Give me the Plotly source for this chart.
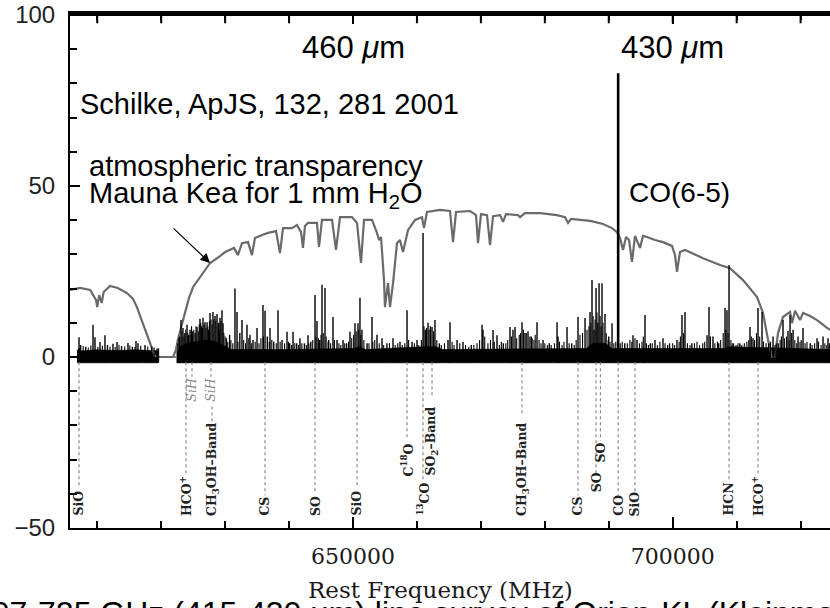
import plotly.graph_objects as go

# ---------------- data ----------------
# Atmospheric transparency, Mauna Kea, 1 mm H2O (percent)
atm_freq = [605740, 607300, 608900, 609800, 610000, 610300, 610700, 611000, 612000, 613200,
            614650, 615600, 616200, 617150, 618250, 619000, 619800, 621850, 622300, 622600,
            623100, 623700, 624350, 625000, 626100, 627650, 629200, 630000, 631400, 632000,
            632640, 633580, 634200, 634670, 635770, 636710, 637960, 638580, 639050, 640460,
            641240, 641870, 642180, 642490, 642960, 644370, 644680, 645150, 646720, 647340,
            647970, 649840, 650630, 651250, 651720, 652970, 653750, 654070, 654380, 654850,
            655000, 655470, 655790, 656260, 656880, 657350, 657820, 658600, 659700, 660790,
            661100, 661570, 663610, 665170, 665640, 666110, 668300, 669240, 669550, 670020,
            670960, 671430, 671900, 673000, 673460, 673930, 675810, 676120, 676900, 679250,
            681910, 683160, 683630, 684100, 687070, 689100, 690510, 691290, 691760, 692230,
            692700, 693170, 693630, 694100, 694890, 695360, 695980, 697230, 698480, 699890,
            700360, 700670, 701140, 701920, 704740, 707400, 708960, 710990, 713190, 714120,
            714910, 715530, 716000, 716470, 717250, 718350, 718660, 719130, 719910, 720380,
            721480, 722570, 724140, 724900]
atm_trans = [19.6, 20.2, 19.6, 16.7, 14.6, 18.1, 15.8, 19.0, 20.8, 20.2,
             18.7, 17.0, 14.6, 9.9, 4.1, 0.3, 0.0, 0.0, 2.0, 5.0,
             8.5, 12.9, 17.3, 20.5, 23.4, 27.5, 29.5, 30.7, 31.9, 29.8,
             33.3, 33.6, 29.8, 34.8, 35.7, 36.3, 36.8, 30.4, 37.7, 37.7,
             38.6, 36.5, 31.9, 38.3, 39.2, 39.2, 32.2, 40.1, 40.1, 31.3,
             40.9, 40.9, 39.2, 27.5, 40.1, 40.1, 36.3, 34.2, 35.1, 22.5,
             14.6, 21.6, 14.6, 21.6, 33.3, 34.2, 30.7, 37.1, 40.1, 40.9,
             37.7, 42.4, 43.0, 42.7, 33.6, 42.4, 42.7, 41.5, 33.3, 41.8,
             41.5, 32.7, 41.2, 41.5, 39.5, 41.8, 41.5, 40.9, 42.1, 42.1,
             41.5, 40.9, 39.2, 40.4, 39.8, 38.9, 37.7, 36.5, 34.8, 31.3,
             35.1, 34.2, 27.8, 35.4, 31.9, 35.4, 35.1, 34.2, 33.6, 32.5,
             29.8, 24.9, 30.7, 31.3, 28.9, 26.9, 26.0, 22.5, 17.5, 12.9,
             5.0, 0.0, 0.0, 7.0, 11.7, 13.2, 9.9, 13.5, 10.8, 12.9,
             12.0, 10.8, 8.5, 7.6]

# Orion-KL spectrum: stronger line peaks (MHz, intensity)
line_freq = [607150, 607400, 608200, 609340, 609650, 610430, 611210, 611600, 612460, 613090,
             613800, 614810, 615500, 616060, 616370, 617470, 618500, 619350,
             622900, 623100, 623410, 623700, 624040, 624300, 624510, 624900, 625300, 625600,
             626070, 626300, 626540, 626850, 627170, 627400, 627640, 628100, 628420, 628730,
             629000, 629200, 629510, 629670, 630200, 630700, 631540, 631860, 632300, 632640,
             633420, 633890, 634360, 634990, 635920, 636240, 636600, 637020, 637600, 638270,
             638900, 639680, 640100, 640620, 641200, 641710, 642400, 642960, 643400, 644060,
             644370, 644800, 645150, 645620, 646200, 646870, 647500, 648440, 649000, 649530,
             650310, 650780, 651090, 651400, 652200, 652970, 653750, 654540, 655300, 656260,
             657350, 658450, 659230, 660010, 660950, 661300, 661730, 662100, 662360, 662820,
             663500, 664860, 665170, 666270, 667200, 668500, 670180, 670330, 671900, 672520,
             673500, 674550, 675020, 675340, 676430, 676900, 677370, 677680, 678000, 678780,
             679720, 680700, 681910, 682060, 683470, 684200, 685190, 686290, 687070, 687380,
             687700, 688010, 688300, 688480, 688940, 689410, 690000, 690510, 692500, 693790,
             694420, 695670, 696500, 697230, 698480, 699500, 700670, 701450, 701920, 703000,
             705370, 705680, 706300, 707200, 708180, 708490, 708810, 709500, 710500, 712090,
             712560, 713340, 713970, 715000, 715690, 716500, 717250, 718030, 718350, 718820,
             719600, 720380, 721500, 722570, 723510, 724290]
line_peak = [5.8, 3.5, 3.0, 9.4, 5.8, 4.4, 6.4, 3.5, 3.9, 4.4,
             3.2, 4.1, 3.0, 4.7, 4.0, 3.5, 3.0, 2.5,
             6.0, 10.8, 8.5, 7.0, 9.4, 6.5, 8.0, 7.5, 7.0, 8.8,
             11.2, 9.0, 11.5, 10.2, 10.2, 8.0, 12.9, 13.2, 12.0, 12.6,
             10.0, 11.5, 13.7, 9.9, 5.5, 6.5, 20.0, 13.2, 7.0, 10.8,
             9.4, 6.5, 5.0, 8.5, 15.2, 13.5, 6.0, 8.5, 4.5, 13.7,
             5.0, 7.4, 4.0, 7.4, 4.0, 5.5, 4.0, 6.4, 4.5, 18.1,
             10.5, 5.0, 21.1, 20.2, 5.0, 11.7, 5.0, 5.0, 4.0, 7.4,
             9.9, 9.9, 17.3, 8.0, 4.0, 11.7, 6.5, 5.5, 4.0, 5.5,
             4.5, 13.7, 4.5, 5.0, 36.3, 8.0, 10.0, 9.0, 8.8, 10.8,
             4.0, 5.0, 10.2, 5.0, 4.5, 3.5, 9.4, 8.0, 7.9, 6.4,
             4.0, 8.8, 8.0, 8.8, 10.2, 7.0, 7.5, 6.0, 5.5, 10.2,
             5.0, 4.0, 10.2, 6.0, 8.8, 4.0, 11.7, 11.4, 13.2, 22.5,
             8.0, 20.2, 10.0, 21.6, 21.6, 12.6, 6.0, 9.9, 4.0, 6.4,
             5.0, 12.3, 4.0, 5.0, 5.5, 4.0, 5.0, 12.3, 13.2, 4.0,
             6.4, 14.6, 6.0, 4.0, 14.3, 13.7, 26.9, 4.0, 4.0, 8.8,
             5.5, 14.3, 13.2, 4.0, 6.0, 4.0, 10.8, 7.7, 12.3, 8.0,
             6.0, 8.5, 4.0, 5.5, 6.0, 5.5]

# weaker lines of the forest (MHz, intensity)
weak_freq = [607800, 608600, 609000, 610100, 610800, 612000, 612800, 613400, 614300, 615100,
             615900, 616800, 617900, 618900, 619600,
             622600, 622750, 623250, 623550, 623850, 624150, 624650, 624750, 625100, 625450,
             625800, 625950, 626200, 626450, 626700, 627000, 627300, 627550, 627800, 627950,
             628250, 628550, 628900, 629100, 629350, 629800, 630000, 630400, 630900, 631200,
             632000, 632900, 633200, 633700, 634100, 634700, 635300, 635600, 636000, 636900,
             637300, 638000, 638600, 639300, 639900, 640400, 640900, 641500, 642000, 642700,
             643100, 643700, 644200, 644600, 645000, 645350, 645800, 646100, 646500, 647100,
             647800, 648100, 648700, 649300, 649800, 650100, 650500, 650900, 651200, 651700,
             652500, 653100, 653400, 654100, 654800, 655700, 656600, 657000, 657700, 658100,
             658700, 659600, 660300, 660700, 661100, 661500, 661900, 662600, 663100, 663800,
             664300, 665500, 665800, 666700, 667600, 668100, 668900, 669400, 669800, 670600,
             671100, 671500, 672100, 672900, 673200, 673900, 674200, 674800, 675600, 676000,
             676200, 676650, 677100, 677900, 678300, 678500, 679100, 679400, 680000, 680400,
             681000, 681500, 682300, 682700, 683000, 683800, 684600, 684900, 685500, 685900,
             686600, 686900, 687200, 687550, 687850, 688150, 688650, 688800, 689100, 689600,
             689900, 690200, 690800, 691100, 691800, 692100, 692900, 693300, 693600, 694100,
             694800, 695200, 695400, 695900, 696200, 696800, 697600, 698000, 698800, 699200,
             700000, 700300, 701000, 701200, 701700, 702300, 702700, 703400, 703800, 704200,
             704700, 705000, 705900, 706600, 707000, 707500, 707900, 708300, 708650, 709100,
             709300, 709900, 710200, 710800, 711200, 711600, 711900, 712300, 712800, 713100,
             713600, 714200, 714600, 715300, 716000, 716200, 716800, 717000, 717500, 717800,
             718200, 718600, 719100, 719400, 719900, 720100, 720700, 721000, 721800, 722200,
             722800, 723200, 723800, 724100, 724500]
weak_peak = [3.2, 2.8, 3.4, 3.0, 3.3, 3.0, 2.9, 3.6, 3.1, 3.4,
             2.9, 3.3, 3.1, 2.8, 2.6,
             4.0, 5.5, 7.5, 6.0, 8.0, 7.0, 6.5, 9.0, 8.0, 9.0,
             7.5, 9.5, 10.0, 8.5, 9.5, 8.5, 9.0, 10.5, 11.0, 9.5,
             11.0, 10.5, 9.5, 8.0, 10.5, 7.0, 6.0, 4.5, 5.0, 4.0,
             4.5, 5.0, 4.0, 5.5, 4.0, 4.5, 4.0, 5.5, 6.0, 4.5,
             5.0, 4.0, 4.5, 4.0, 4.5, 3.5, 4.0, 3.5, 4.0, 3.5,
             4.0, 5.0, 6.0, 5.5, 6.5, 7.0, 6.0, 4.5, 4.0, 5.0,
             4.0, 3.5, 4.0, 4.5, 5.5, 6.5, 7.5, 8.0, 6.5, 5.0,
             4.0, 4.5, 5.0, 4.0, 3.5, 4.0, 3.5, 4.0, 3.5, 4.0,
             5.0, 4.0, 3.5, 5.0, 9.0, 8.5, 8.0, 7.5, 5.0, 3.5,
             4.0, 4.5, 3.5, 4.0, 3.5, 3.0, 3.5, 4.0, 5.0, 6.0,
             4.0, 5.0, 4.5, 3.5, 4.5, 4.0, 5.0, 6.0, 5.5, 6.5,
             7.0, 8.0, 7.0, 6.0, 5.0, 6.5, 5.0, 4.0, 4.0, 3.5,
             3.5, 4.0, 4.5, 3.5, 4.5, 4.0, 3.5, 5.0, 6.5, 7.0,
             8.0, 9.0, 10.0, 12.0, 11.0, 13.0, 12.0, 9.0, 10.0, 7.0,
             5.0, 4.5, 4.0, 4.5, 4.0, 4.5, 4.0, 5.0, 4.5, 5.5,
             4.0, 4.5, 6.0, 4.0, 3.5, 4.0, 3.5, 4.5, 4.0, 3.5,
             4.0, 3.5, 4.5, 6.0, 7.0, 4.0, 3.5, 4.0, 4.5, 3.5,
             4.0, 4.5, 6.0, 4.0, 4.5, 5.0, 7.0, 8.0, 7.0, 5.0,
             4.0, 3.5, 4.0, 3.5, 4.0, 4.5, 5.0, 6.0, 5.0, 7.0,
             6.0, 4.5, 4.0, 4.5, 3.5, 4.0, 5.0, 6.0, 5.5, 6.0,
             5.0, 7.0, 5.0, 4.0, 4.5, 5.0, 4.0, 4.5, 3.5, 4.0,
             4.5, 3.5, 4.0, 3.5, 4.0]

co_freq = 691470
co_peak = 83.0

# noise band of the two observed segments
floor1_freq = [606830, 607200, 607500, 610000, 613000, 616000, 619500]
floor1_top = [1.8, 2.6, 1.8, 2.1, 1.9, 2.1, 1.8]
floor2_freq = [622400, 623000, 624000, 625500, 627000, 628500, 630000, 631000,
               640000, 650000, 651000, 652000, 661000, 663000, 664000, 686500, 687500,
               689500, 690500, 708000, 709000, 724900]
floor2_top = [1.5, 3.0, 4.0, 4.5, 5.0, 4.5, 3.0, 2.2,
              2.2, 2.5, 3.0, 2.2, 3.0, 3.0, 2.2, 2.5, 4.0,
              4.0, 2.5, 2.5, 3.0, 2.2]
noise_low = -1.7

# line identifications
label_text = ["SiO", "HCO<sup>+</sup>", "SiH", "SiH", "CH<sub>3</sub>OH\u2013Band", "CS", "SO", "SiO",
              "C<sup>18</sup>O", "<sup>13</sup>CO", "SO<sub>2</sub>\u2013Band", "CH<sub>3</sub>OH\u2013Band",
              "CS", "SO", "SO", "CO", "SiO", "HCN", "HCO<sup>+</sup>"]
label_freq = [607150, 623880, 624820, 627800, 627950, 636240, 644060, 650630,
              658450, 660950, 662360, 676430,
              685190, 688010, 688700, 691470, 694100, 708810, 713340]
label_dot_top = [-1.5, -1.5, -1.5, -1.5, -14.5, -1.5, -1.5, -1.5,
                 -1.5, -1.5, -1.5, -1.5,
                 -1.5, -1.5, -1.5, -1.5, -1.5, -1.5, -1.5]
label_dot_end = [-38.0, -34.0, -5.8, -5.8, -19.3, -40.4, -39.8, -38.3,
                 -23.4, -36.0, -11.1, -17.0,
                 -40.4, -34.5, -24.5, -40.4, -40.4, -36.5, -34.5]
label_bottom = [-46.8, -46.8, -13.5, -13.5, -46.8, -46.8, -46.8, -46.8,
                -35.4, -46.8, -35.1, -46.8,
                -46.8, -39.8, -31.0, -46.8, -46.8, -46.8, -46.8]
label_faint = [False, False, True, True, False, False, False, False,
               False, False, False, False,
               False, False, False, False, False, False, False]

# top-frame tick positions (MHz)
top_ticks = [610000, 620000, 630000, 640000, 650000, 660000, 670000, 680000,
             690000, 700000, 710000, 720000]
x_range = [605740, 724600]
y_range = [-50, 100.6]
y_top = 100

# ---------------- figure ----------------
fig = go.Figure()

# top frame with its inward ticks (drawn first)
tx, ty = [x_range[0], x_range[1], None], [y_top, y_top, None]
for t in top_ticks:
    tx += [t, t, None]
    ty += [y_top, y_top - 2.4, None]
fig.add_trace(go.Scatter(x=tx, y=ty, mode="lines", line=dict(color="black", width=2),
                         showlegend=False, hoverinfo="skip"))

for ff, ft in ((floor1_freq, floor1_top), (floor2_freq, floor2_top)):
    fig.add_trace(go.Scatter(
        x=ff + ff[::-1], y=ft + [noise_low] * len(ff),
        fill="toself", fillcolor="black", mode="lines",
        line=dict(width=0.6, color="black"), hoverinfo="skip", showlegend=False))

fig.add_trace(go.Scatter(x=[floor1_freq[-1], floor2_freq[0]], y=[0, 0], mode="lines",
                         line=dict(color="#555", width=1.5), showlegend=False, hoverinfo="skip"))

fig.add_trace(go.Scatter(x=atm_freq, y=atm_trans, mode="lines",
                         line=dict(color="#6a6a6a", width=2.2), showlegend=False))

wx, wy = [], []
for f, p in zip(weak_freq, weak_peak):
    wx += [f, f, None]
    wy += [noise_low, p, None]
fig.add_trace(go.Scatter(x=wx, y=wy, mode="lines", line=dict(color="black", width=1.1),
                         showlegend=False, hoverinfo="skip"))

sx, sy = [], []
for f, p in zip(line_freq, line_peak):
    sx += [f, f, None]
    sy += [noise_low, p, None]
fig.add_trace(go.Scatter(x=sx, y=sy, mode="lines", line=dict(color="black", width=1.4),
                         showlegend=False, hoverinfo="skip"))
fig.add_trace(go.Scatter(x=[co_freq, co_freq], y=[noise_low, co_peak], mode="lines",
                         line=dict(color="black", width=2.6), showlegend=False))

dx, dy = [], []
for f, t, e in zip(label_freq, label_dot_top, label_dot_end):
    dx += [f, f, None]
    dy += [t, e, None]
fig.add_trace(go.Scatter(x=dx, y=dy, mode="lines", line=dict(color="#8a8a8a", width=1.2, dash="dot"),
                         showlegend=False, hoverinfo="skip"))

ann = []
for txt, f, b, faint in zip(label_text, label_freq, label_bottom, label_faint):
    ann.append(dict(x=f, y=b, xref="x", yref="y",
                    text=("<i>%s</i>" % txt) if faint else "<b>%s</b>" % txt,
                    textangle=-90, showarrow=False, xanchor="center", yanchor="bottom",
                    font=dict(family="DejaVu Serif", size=12.5,
                              color="#8a8a8a" if faint else "#222222"),
                    borderpad=0))

sans = "Liberation Sans, Arial, sans-serif"
ann += [
    dict(x=641710, y=90.6, xref="x", yref="y", text="460 <i>\u03bc</i>m", showarrow=False,
         xanchor="left", yanchor="middle", font=dict(family=sans, size=31, color="black")),
    dict(x=691600, y=90.6, xref="x", yref="y", text="430 <i>\u03bc</i>m", showarrow=False,
         xanchor="left", yanchor="middle", font=dict(family=sans, size=31, color="black")),
    dict(x=607000, y=74.0, xref="x", yref="y", text="Schilke, ApJS, 132, 281 2001", showarrow=False,
         xanchor="left", yanchor="middle", font=dict(family=sans, size=29, color="black")),
    dict(x=608400, y=55.8, xref="x", yref="y", text="atmospheric transparency", showarrow=False,
         xanchor="left", yanchor="middle", font=dict(family=sans, size=29, color="black")),
    dict(x=608400, y=47.3, xref="x", yref="y", text="Mauna Kea for 1 mm H<sub>2</sub>O", showarrow=False,
         xanchor="left", yanchor="middle", font=dict(family=sans, size=29, color="black")),
    dict(x=692900, y=48.0, xref="x", yref="y", text="CO(6-5)", showarrow=False,
         xanchor="left", yanchor="middle", font=dict(family=sans, size=28, color="black")),
    dict(x=627640, y=27.5, xref="x", yref="y", text="", showarrow=True, ax=-38, ay=-36,
         arrowhead=2, arrowsize=1.6, arrowwidth=1.2, arrowcolor="black"),
    dict(x=663760, y=-0.121, xref="x", yref="paper", text="Rest Frequency (MHz)", showarrow=False,
         xanchor="center", yanchor="middle", font=dict(family="DejaVu Serif", size=23, color="#1a1a1a")),
    dict(x=-0.129, y=-0.1267, xref="paper", yref="paper",
         text="607-725 GHz (415-430 \u03bcm) line survey of Orion-KL (Kleinmann-Low)",
         showarrow=False, xanchor="left", yanchor="top",
         font=dict(family=sans, size=32, color="black")),
]

fig.update_layout(
    width=830, height=608,
    margin=dict(l=70, r=0, t=13, b=80),
    paper_bgcolor="white", plot_bgcolor="white",
    showlegend=False,
    annotations=ann,
    xaxis=dict(range=x_range, showgrid=False, zeroline=False,
               showline=True, linecolor="black", linewidth=2, mirror="ticks",
               ticks="inside", ticklen=11, tickwidth=1.6, tickcolor="black",
               tickmode="linear", tick0=0, dtick=50000, tickformat="d",
               minor=dict(dtick=10000, ticklen=7, tickwidth=1.6, tickcolor="black", ticks="inside"),
               tickfont=dict(family="DejaVu Serif", size=22, color="#1a1a1a"),
               ticklabelstandoff=8),
    yaxis=dict(range=y_range, showgrid=False, zeroline=False,
               showline=True, linecolor="black", linewidth=2,
               ticks="inside", ticklen=10, tickwidth=1.6, tickcolor="black",
               tickvals=[-50, 0, 50, 100], ticktext=["\u221250", "0", "50", "100"],
               minor=dict(dtick=10, ticklen=7, tickwidth=1.6, tickcolor="black", ticks="inside"),
               tickfont=dict(family=sans, size=24, color="#222"),
               ticklabelstandoff=8),
    shapes=[dict(type="line", xref="paper", yref="paper", x0=0, x1=1, y0=1, y1=1,
                 line=dict(color="black", width=2))],
)

fig.write_html("out.html", config={"displayModeBar": False},
               post_script="document.body.style.margin='0';")
